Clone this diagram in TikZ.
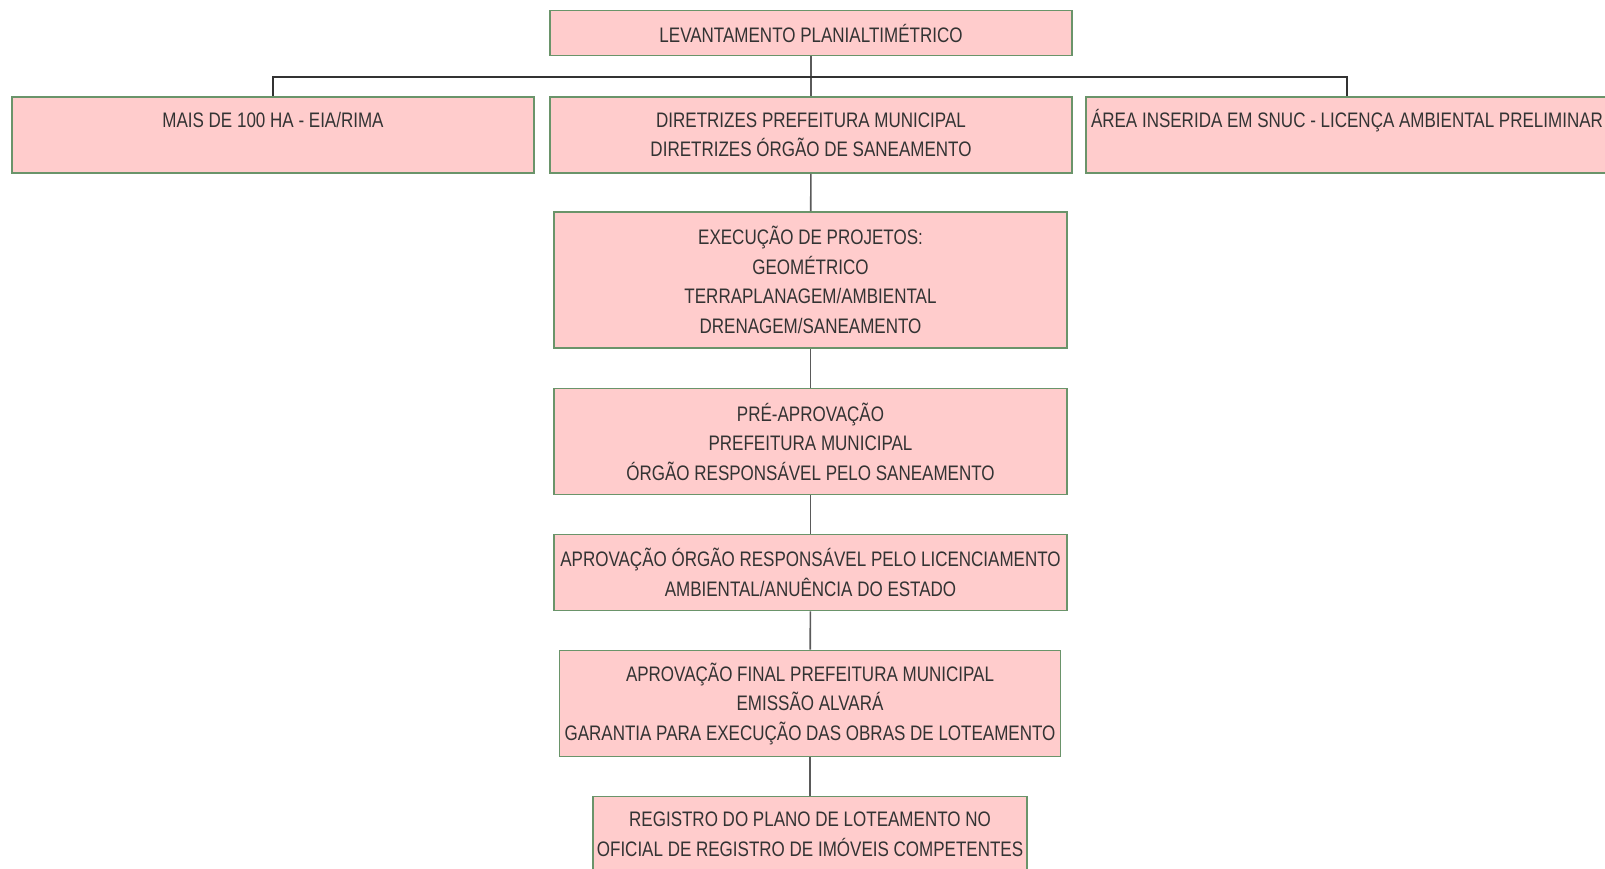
\documentclass[tikz,border=0pt]{standalone}
\usepackage{fontspec}
\setmainfont{Liberation Sans}[FakeStretch=0.81]
\usepackage{tikz}
\definecolor{boxfill}{HTML}{FFCCCC}
\definecolor{boxline}{HTML}{6A946A}
\definecolor{boxtext}{HTML}{333333}
\definecolor{linkgray}{HTML}{5A5A5A}

\begin{document}
\begin{tikzpicture}[x=1pt,y=-1pt,
  etapa/.style={draw=boxline,line width=1.6pt,fill=boxfill,text=boxtext,
    align=center,inner sep=0pt,
    font=\fontsize{21}{29.5}\selectfont},
  elo/.style={draw=linkgray,line width=1.6pt}]
% The frame
\useasboundingbox (0,0) rectangle (1605,868);
\clip (0,0) rectangle (1605,868);

% The boxes
\node[etapa,minimum width=522pt,minimum height=45pt] (lev) at (811,33)
  {LEVANTAMENTO PLANIALTIMÉTRICO};
\node[etapa,minimum width=522pt,minimum height=76pt] (eia) at (273,135)
  {MAIS DE 100 HA - EIA/RIMA\\\mbox{}};
\node[etapa,minimum width=522pt,minimum height=76pt] (dir) at (811,135)
  {DIRETRIZES PREFEITURA MUNICIPAL\\DIRETRIZES ÓRGÃO DE SANEAMENTO};
\node[etapa,minimum width=522pt,minimum height=76pt,align=left,
  inner xsep=5pt] (snuc) at (1347,135)
  {\makebox[512pt][l]{\smash{Á}REA INSERIDA EM SNUC - LICENÇA AMBIENTAL PRELIMINAR}\\\mbox{}};
\node[etapa,minimum width=513pt,minimum height=136pt] (proj) at (810.5,280)
  {EXECUÇÃO DE PROJETOS:\\GEOMÉTRICO\\TERRAPLANAGEM/AMBIENTAL\\DRENAGEM/SANEAMENTO};
\node[etapa,minimum width=513pt,minimum height=106pt] (pre) at (810.5,441.5)
  {PRÉ-APROVAÇÃO\\PREFEITURA MUNICIPAL\\ÓRGÃO RESPONSÁVEL PELO SANEAMENTO};
\node[etapa,minimum width=513pt,minimum height=76pt] (amb) at (810.5,572.5)
  {APROVAÇÃO ÓRGÃO RESPONSÁVEL PELO LICENCIAMENTO\\AMBIENTAL/ANUÊNCIA DO ESTADO};
\node[etapa,minimum width=501pt,minimum height=106pt] (fin) at (810,703.5)
  {APROVAÇÃO FINAL PREFEITURA MUNICIPAL\\EMISSÃO ALVARÁ\\GARANTIA PARA EXECUÇÃO DAS OBRAS DE LOTEAMENTO};
\node[etapa,minimum width=434pt,minimum height=76pt] (reg) at (810,834.5)
  {REGISTRO DO PLANO DE LOTEAMENTO NO\\OFICIAL DE REGISTRO DE IMÓVEIS COMPETENTES};

% The links
\coordinate (barra) at (811,77);
\draw[elo] (lev) -- (dir);
\draw[elo,draw=black!80] (eia.north) -- (eia.north |- barra) -- (snuc.north |- barra) -- (snuc.north);
\draw[elo] (dir) -- (proj);
\draw[elo] (proj) -- (pre);
\draw[elo] (pre) -- (amb);
\draw[elo] (amb) -- (fin);
\draw[elo] (fin) -- (reg);
\end{tikzpicture}
\end{document}
